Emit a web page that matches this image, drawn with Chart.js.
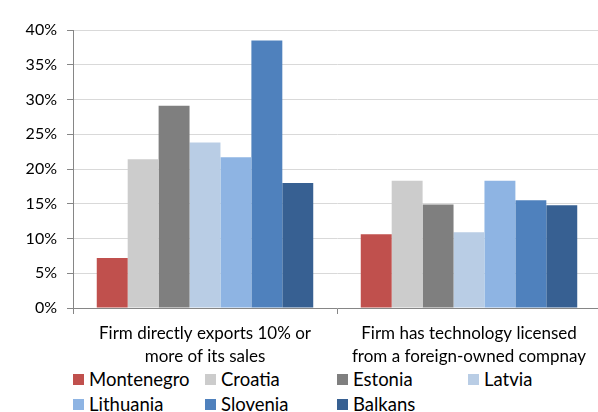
<!DOCTYPE html>
<html lang="en">
<head>
    <meta charset="UTF-8">
    <title>Firm exports and licensed technology</title>
    <script src="https://cdn.jsdelivr.net/npm/chart.js"></script>
    <style>
        body {
            margin: 0;
            padding: 0;
            background: #fff;
            overflow: hidden;
            font-family: Lato, "Open Sans", sans-serif;
        }
        .wrap {
            position: relative;
            width: 601px;
            height: 412px;
        }
        #chart {
            position: absolute;
            left: 0;
            top: 0;
        }
        .legend {
            position: absolute;
            left: 73px;
            top: 368px;
            display: grid;
            grid-template-columns: 132px 132px 131px 131px;
            row-gap: 2px;
            font-size: 18.5px;
            line-height: 1;
            color: #000;
        }
        .legend span {
            display: flex;
            align-items: center;
            height: 23px;
        }
        .legend i {
            display: inline-block;
            width: 11px;
            height: 11px;
            margin-right: 5px;
        }
    </style>
</head>
<body>
    <div class="wrap">
        <canvas id="chart" width="601" height="366"></canvas>
        <div class="legend" id="legend"></div>
    </div>

    <script>
        // Data
        const categories = [
            ['Firm directly exports 10% or', 'more of its sales'],
            ['Firm has technology licensed', 'from a foreign-owned compnay']
        ];
        const countries = ['Montenegro', 'Croatia', 'Estonia', 'Latvia', 'Lithuania', 'Slovenia', 'Balkans'];
        const montenegro = [7.2, 10.6];
        const croatia = [21.4, 18.3];
        const estonia = [29.1, 14.9];
        const latvia = [23.8, 10.9];
        const lithuania = [21.7, 18.3];
        const slovenia = [38.5, 15.5];
        const balkans = [18.0, 14.8];
        const seriesValues = [montenegro, croatia, estonia, latvia, lithuania, slovenia, balkans];
        const colors = ['#C0504D', '#CCCCCC', '#7F7F7F', '#B9CDE5', '#8EB4E3', '#4F81BD', '#376092'];

        const datasets = countries.map((name, i) => ({
            label: name,
            data: seriesValues[i],
            backgroundColor: colors[i],
            borderWidth: 0,
            categoryPercentage: 0.82,
            barPercentage: 1.0
        }));

        // HTML legend, laid out in columns like the original
        const legendEl = document.getElementById('legend');
        countries.forEach((name, i) => {
            const item = document.createElement('span');
            item.innerHTML = `<i style="background:${colors[i]}"></i>${name}`;
            legendEl.appendChild(item);
        });

        const ctx = document.getElementById('chart').getContext('2d');
        new Chart(ctx, {
            type: 'bar',
            data: { labels: categories, datasets: datasets },
            options: {
                responsive: false,
                animation: false,
                layout: { padding: { top: 30, left: 0, right: 0, bottom: 0 } },
                plugins: {
                    legend: { display: false },
                    tooltip: { enabled: false }
                },
                scales: {
                    x: {
                        grid: {
                            drawOnChartArea: false,
                            tickLength: 6,
                            tickColor: '#868686'
                        },
                        border: { color: '#868686' },
                        ticks: {
                            color: '#000',
                            font: { family: 'Lato, "Open Sans", sans-serif', size: 17, lineHeight: 1.35 },
                            padding: 8,
                            maxRotation: 0
                        },
                        afterFit: s => { s.height = 58; }
                    },
                    y: {
                        min: 0,
                        max: 40,
                        ticks: {
                            stepSize: 5,
                            color: '#000',
                            font: { family: 'Lato, "Open Sans", sans-serif', size: 16 },
                            padding: 10,
                            callback: v => v + '%'
                        },
                        grid: {
                            color: '#D9D9D9',
                            tickColor: '#868686',
                            tickLength: 6
                        },
                        border: { color: '#868686' },
                        afterFit: s => { s.width = 73; }
                    }
                }
            }
        });
    </script>
</body>
</html>
